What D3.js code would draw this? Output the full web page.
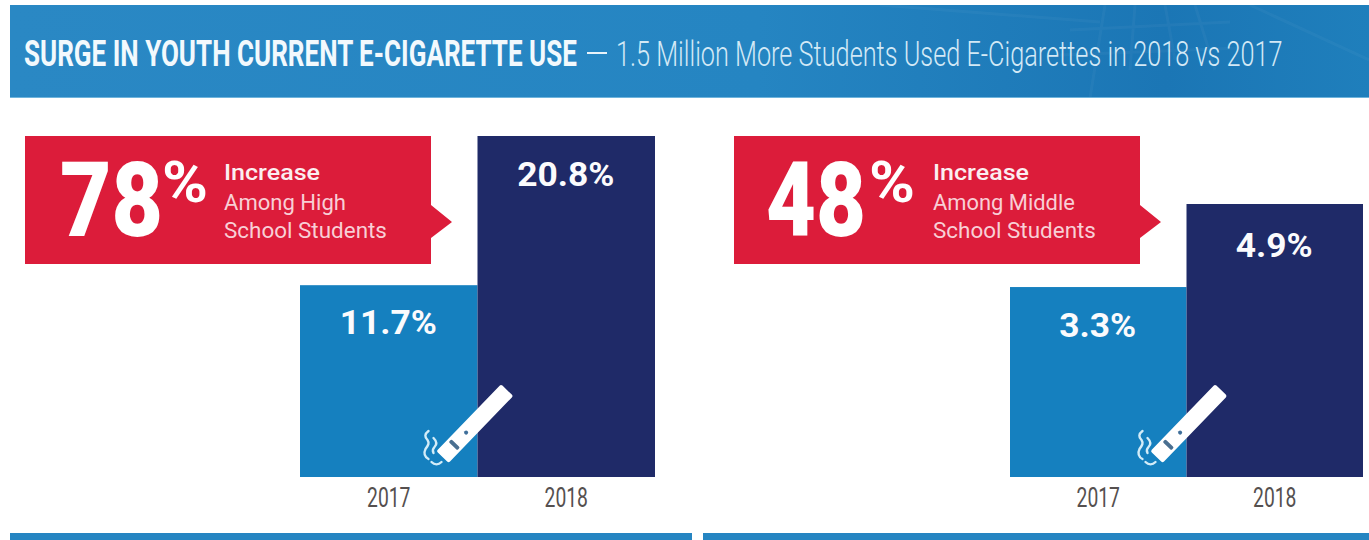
<!DOCTYPE html>
<html>
<head>
<meta charset="utf-8">
<script src="https://cdnjs.cloudflare.com/ajax/libs/d3/7.8.5/d3.min.js"></script>
<style>
html,body{margin:0;padding:0;background:#fff;}
svg{display:block;}
text{font-family:Roboto,"Liberation Sans",sans-serif;}
</style>
</head>
<body>
<svg id="chart" width="1369" height="540"></svg>
<script>
const years = ["2017", "2018"];
const highSchoolValues = [11.7, 20.8];
const middleSchoolValues = [3.3, 4.9];
const highSchoolIncrease = "78";
const middleSchoolIncrease = "48";
const highSchoolLines = ["Among High", "School Students"];
const middleSchoolLines = ["Among Middle", "School Students"];
const titleBold = "SURGE IN YOUTH CURRENT E-CIGARETTE USE";
const titleLight = "1.5 Million More Students Used E-Cigarettes in 2018 vs 2017";
const barColors = ["#1580bf", "#1f2a68"];

const svg = d3.select("#chart");

// Places a text at (x, y) and squeezes it horizontally to the given width,
// standing in for the condensed face of the design.
function fitted(parent, str, x, y, width, size, weight, fill) {
  const t = parent.append("text").attr("font-size", size).attr("font-weight", weight)
    .attr("fill", fill).text(str);
  const natural = t.node().getComputedTextLength();
  t.attr("transform", `translate(${x},${y}) scale(${width / natural},1)`);
  return t;
}

const defs = svg.append("defs");
const headGrad = defs.append("linearGradient").attr("id", "headGrad");
[["0%", "#2a88c4"], ["55%", "#2585c2"], ["85%", "#1b76b5"], ["100%", "#1f7fbc"]].forEach(([o, c]) =>
  headGrad.append("stop").attr("offset", o).attr("stop-color", c));

// Header band with its faint street-grid texture
svg.append("rect").attr("x", 10).attr("y", 5).attr("width", 1359).attr("height", 93).attr("fill", "url(#headGrad)");
svg.append("path")
  .attr("d", "M1105 5L1090 98M1135 5L1130 70M1165 5L1175 60M1195 5L1215 70M1070 30L1230 22M1060 55L1240 48M1250 5L1369 60M880 5L1100 22")
  .attr("stroke", "#fff").attr("stroke-opacity", 0.035).attr("stroke-width", 3).attr("fill", "none");
svg.append("rect").attr("x", 10).attr("y", 97).attr("width", 1359).attr("height", 1).attr("fill", "#6fb4dc");

fitted(svg, titleBold, 24, 65.5, 553, 37, 700, "#f2f9fd");
svg.append("rect").attr("x", 587).attr("y", 52).attr("width", 20).attr("height", 2).attr("fill", "#e8f3fa");
fitted(svg, titleLight, 616, 65.5, 667, 35, 300, "#d3e9f6");

// Top edge of the next row of panels
svg.append("rect").attr("x", 10).attr("y", 533).attr("width", 682).attr("height", 7).attr("fill", "#2585c2");
svg.append("rect").attr("x", 703).attr("y", 533).attr("width", 666).attr("height", 7).attr("fill", "#2585c2");

const panels = [
  {values: highSchoolValues, pct: highSchoolIncrease, lines: highSchoolLines,
   box: [25, 431], domain: [0, 20.8], top: 136, span: [300, 655], pctX: 60, textX: 224,
   bigW: 103, signX: 162, line1W: 122, labelDy: [49, 50], iconDx: -35},
  {values: middleSchoolValues, pct: middleSchoolIncrease, lines: middleSchoolLines,
   box: [734, 1140], domain: [-0.36, 4.9], top: 204, span: [1010, 1363], pctX: 766, textX: 933,
   bigW: 100, signX: 869, line1W: 142, labelDy: [50, 53], iconDx: -30}
];

panels.forEach(p => {
  const g = svg.append("g");
  const x = d3.scaleBand().domain(years).range(p.span).padding(0);
  const y = d3.scaleLinear().domain(p.domain).range([477, p.top]);

  g.selectAll("rect.bar").data(p.values).join("rect").attr("class", "bar")
    .attr("x", (d, i) => x(years[i])).attr("width", x.bandwidth())
    .attr("y", d => y(d)).attr("height", d => 477 - y(d))
    .attr("fill", (d, i) => barColors[i]);

  g.selectAll("text.val").data(p.values).join("text").attr("class", "val")
    .attr("transform", (d, i) =>
      `translate(${x(years[i]) + x.bandwidth() / 2 - 0.5},${y(d) + p.labelDy[i]}) scale(1.04,1)`)
    .attr("text-anchor", "middle").attr("fill", "#fbfbfd")
    .attr("font-size", 34).attr("font-weight", 700)
    .text(d => d.toFixed(1) + "%");

  const axis = d3.axisBottom(x).tickSize(0);
  const ag = g.append("g").attr("transform", "translate(0,477)").call(axis);
  ag.select(".domain").remove();
  ag.selectAll("text").attr("font-size", 28).attr("fill", "#55504f")
    .attr("y", 0).attr("dy", 0)
    .attr("transform", "translate(0,30) scale(0.69,1)")
    .style("font-family", "Roboto");

  // Callout with its pointer
  const [bx0, bx1] = p.box;
  g.append("path").attr("fill", "#dc1c3a")
    .attr("d", `M${bx0} 136H${bx1}V205L${bx1 + 21} 222L${bx1} 238V264H${bx0}Z`);
  fitted(g, p.pct, p.pctX, 236, p.bigW, 103, 900, "#fff");
  fitted(g, "%", p.signX, 202, 46, 58, 700, "#fff");
  fitted(g, "Increase", p.textX, 180, 96, 22, 500, "#fbeef0");
  fitted(g, p.lines[0], p.textX, 210, p.line1W, 22, 400, "#f8cfd6");
  fitted(g, p.lines[1], p.textX, 238, 163, 22, 400, "#f8cfd6");

  // E-cigarette icon straddling the two bars
  const ox = x("2018") + p.iconDx;
  const icon = g.append("g").attr("transform", `translate(${ox},457) rotate(-46)`);
  icon.append("rect").attr("x", 0).attr("y", -8.5).attr("width", 93).attr("height", 17).attr("rx", 2).attr("fill", "#fff");
  icon.append("rect").attr("x", 15).attr("y", -6).attr("width", 4).attr("height", 12).attr("rx", 1.5).attr("fill", "#4a6f90");
  icon.append("circle").attr("cx", 34).attr("cy", 0).attr("r", 2).attr("fill", "#3f6f9a");
  g.append("path").attr("fill", "none").attr("stroke", "#d3ecf8").attr("stroke-width", 2.4)
    .attr("stroke-linecap", "round")
    .attr("d", `M${ox - 14} 431c-4 3 -4 6 -1 9c2 3 1 5 -2 9c-2 4 -1 8 3 10`
      + `M${ox - 9} 438c3 3 4 6 1 9c-2 2 -2 4 -1 6M${ox - 11} 462c3 3 7 3 10 0`);
});
</script>
</body>
</html>
